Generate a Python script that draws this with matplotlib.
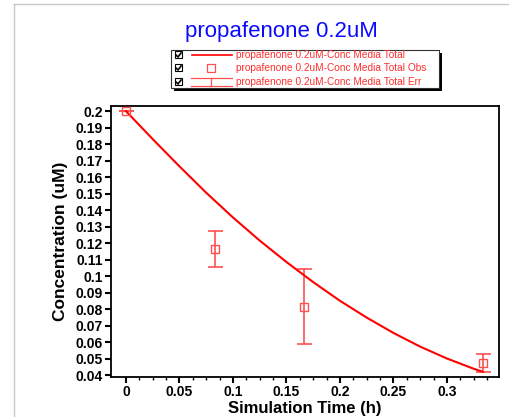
import matplotlib
matplotlib.use('Agg')
import matplotlib.pyplot as plt
from matplotlib.patches import Rectangle
from matplotlib.lines import Line2D

plt.rcParams['font.family'] = ['Liberation Sans', 'DejaVu Sans']

# simulated curve
sim_time = [0, 0.025, 0.05, 0.075, 0.1, 0.125, 0.15, 0.175, 0.2, 0.225, 0.25, 0.275, 0.3, 0.325, 0.3333]
sim_conc = [0.2000, 0.1830, 0.1665, 0.1505, 0.1355, 0.1215, 0.1085, 0.0963, 0.0850, 0.0748,
            0.0655, 0.0572, 0.0500, 0.0438, 0.0420]

# observed points with error
obs_time = [0, 0.0833, 0.1667, 0.3333]
obs_conc = [0.2, 0.1164, 0.0814, 0.0471]
obs_err = [0, 0.0108, 0.0227, 0.0055]

legend_labels = ['propafenone 0.2uM-Conc Media Total',
                 'propafenone 0.2uM-Conc Media Total Obs',
                 'propafenone 0.2uM-Conc Media Total Err']

yticks = [0.04, 0.05, 0.06, 0.07, 0.08, 0.09, 0.1, 0.11, 0.12, 0.13, 0.14, 0.15, 0.16, 0.17, 0.18, 0.19, 0.2]
ytick_labels = ['0.04', '0.05', '0.06', '0.07', '0.08', '0.09', '0.1', '0.11', '0.12', '0.13',
                '0.14', '0.15', '0.16', '0.17', '0.18', '0.19', '0.2']
xticks = [0, 0.05, 0.1, 0.15, 0.2, 0.25, 0.3]
xtick_labels = ['0', '0.05', '0.1', '0.15', '0.2', '0.25', '0.3']

W, H = 509, 417
fig = plt.figure(figsize=(W / 100, H / 100), dpi=100)

# pixel -> figure fraction helpers
def fx(px):
    return px / W

def fy(py):
    return 1 - py / H

# window frame lines
fig.add_artist(Line2D([fx(14), 1], [fy(4), fy(4)], color='#c8c8c8', lw=1))
fig.add_artist(Line2D([fx(14), fx(14)], [fy(4), 0], color='#c8c8c8', lw=1))

ax = fig.add_axes([fx(111), fy(377), fx(499) - fx(111), fy(106) - fy(377)])

ax.plot(sim_time, sim_conc, color='red', lw=1.5, zorder=3)
ax.errorbar(obs_time, obs_conc, yerr=obs_err, fmt='none', ecolor='#ff5050', elinewidth=1.2,
            capsize=5.4, capthick=1.2, zorder=2)
ax.plot(obs_time, obs_conc, 's', mfc='none', mec='#ff5050', ms=6, mew=1, zorder=4)

ax.set_xlim(-0.014, 0.3486)
ax.set_ylim(0.0388, 0.2031)
ax.set_xticks(xticks)
ax.set_xticklabels(xtick_labels)
ax.set_xticks([i * 0.0125 for i in range(28) if i % 4 != 0], minor=True)
ax.set_yticks(yticks)
ax.set_yticklabels(ytick_labels)
ax.tick_params(axis='both', which='major', direction='out', length=4, width=1.5,
               labelsize=10, pad=2)
ax.tick_params(axis='x', which='minor', direction='out', length=2.5, width=1)
for lab in ax.get_xticklabels() + ax.get_yticklabels():
    lab.set_fontweight('bold')
for sp in ax.spines.values():
    sp.set_linewidth(1.3)

ax.set_xlabel('Simulation Time (h)', fontsize=12, fontweight='bold', labelpad=1)
ax.set_ylabel('Concentration (uM)', fontsize=12.5, fontweight='bold')
ax.yaxis.set_label_coords((68 - 111) / (499 - 111), 0.5)

# title
fig.text(fx(281), fy(37), 'propafenone 0.2uM', color='#0a0aff', fontsize=16,
         ha='center', va='baseline')

# legend box with shadow
bx0, bx1, by0, by1 = 171, 439, 50, 88
fig.add_artist(Rectangle((fx(bx0 + 3), fy(by1 + 3)), fx(bx1) - fx(bx0), fy(by0) - fy(by1),
                         facecolor='black', edgecolor='none', transform=fig.transFigure))
fig.add_artist(Rectangle((fx(bx0), fy(by1)), fx(bx1) - fx(bx0), fy(by0) - fy(by1),
                         facecolor='white', edgecolor='#333333', lw=0.8, transform=fig.transFigure))

rows = [55, 68, 82]
for i, (ry, lab) in enumerate(zip(rows, legend_labels)):
    # checkbox
    fig.add_artist(Rectangle((fx(175), fy(ry + 3)), fx(7), fy(0) - fy(7),
                             facecolor='white', edgecolor='black', lw=0.8, transform=fig.transFigure))
    fig.add_artist(Line2D([fx(176), fx(178), fx(181)], [fy(ry), fy(ry + 2), fy(ry - 2)],
                          color='black', lw=1.2))
    if i == 0:
        fig.add_artist(Line2D([fx(192), fx(232)], [fy(ry), fy(ry)], color='red', lw=1.2))
    elif i == 1:
        fig.add_artist(Line2D([fx(211)], [fy(ry)], marker='s', mfc='none', mec='#ff5050',
                              ms=5.5, mew=0.9, ls='none'))
    else:
        fig.add_artist(Line2D([fx(191), fx(232)], [fy(ry - 4), fy(ry - 4)], color='#ff5050', lw=0.9))
        fig.add_artist(Line2D([fx(191), fx(232)], [fy(ry + 4), fy(ry + 4)], color='#ff5050', lw=0.9))
        fig.add_artist(Line2D([fx(211), fx(211)], [fy(ry - 4), fy(ry + 4)], color='#ff5050', lw=0.9))
    fig.text(fx(236), fy(ry), lab, color='#ff3030', fontsize=7.3, ha='left', va='center')

fig.savefig('out.png', dpi=100)
